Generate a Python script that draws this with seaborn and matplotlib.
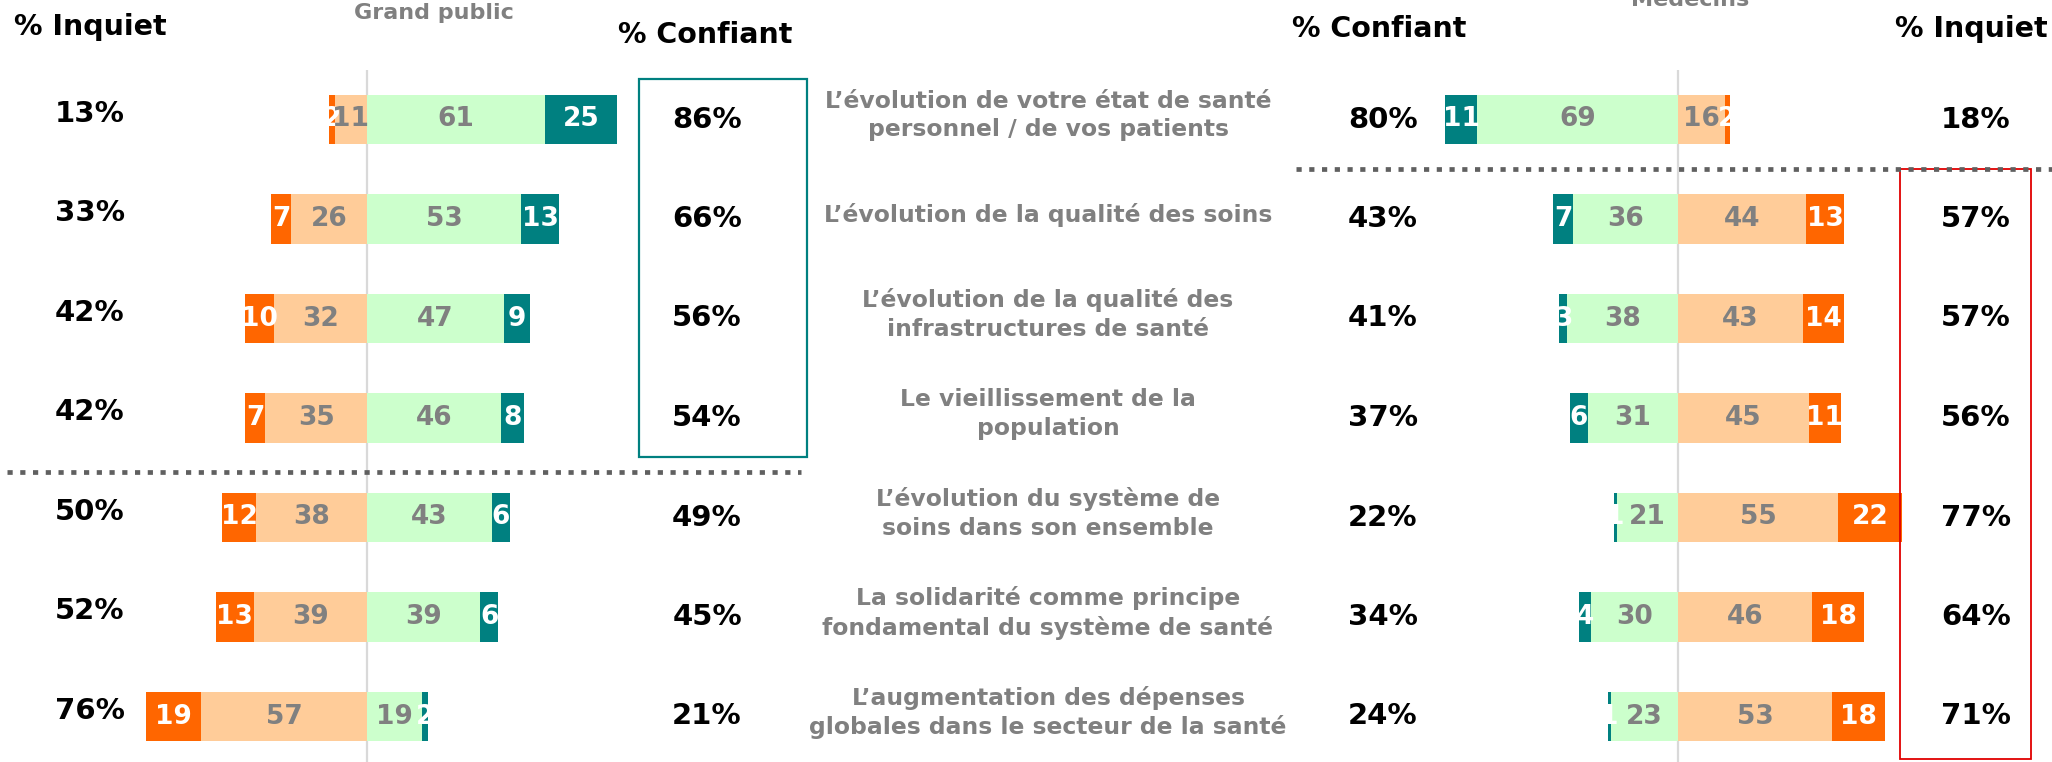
import matplotlib
matplotlib.use("Agg")
import matplotlib.pyplot as plt
import matplotlib.transforms as mtransforms
from matplotlib.patches import Rectangle
from matplotlib.lines import Line2D
import pandas as pd
import seaborn as sns

items = [
    "L’évolution de votre état de santé\npersonnel / de vos patients",
    "L’évolution de la qualité des soins",
    "L’évolution de la qualité des\ninfrastructures de santé",
    "Le vieillissement de la\npopulation",
    "L’évolution du système de\nsoins dans son ensemble",
    "La solidarité comme principe\nfondamental du système de santé",
    "L’augmentation des dépenses\nglobales dans le secteur de la santé",
]

# Grand public
gp_tres_inquiet = [2, 7, 10, 7, 12, 13, 19]
gp_plutot_inquiet = [11, 26, 32, 35, 38, 39, 57]
gp_plutot_confiant = [61, 53, 47, 46, 43, 39, 19]
gp_tres_confiant = [25, 13, 9, 8, 6, 6, 2]
gp_pct_inquiet = [13, 33, 42, 42, 50, 52, 76]
gp_pct_confiant = [86, 66, 56, 54, 49, 45, 21]

# Médecins
med_tres_confiant = [11, 7, 3, 6, 1, 4, 1]
med_plutot_confiant = [69, 36, 38, 31, 21, 30, 23]
med_plutot_inquiet = [16, 44, 43, 45, 55, 46, 53]
med_tres_inquiet = [2, 13, 14, 11, 22, 18, 18]
med_pct_confiant = [80, 43, 41, 37, 22, 34, 24]
med_pct_inquiet = [18, 57, 57, 56, 77, 64, 71]

ORANGE = "#FF6600"
PEACH = "#FFCC99"
MINT = "#CCFFCC"
TEAL = "#008080"
GREY = "#808080"

W, H = 2052, 762
sns.set_style("white")
plt.rcParams["font.family"] = ["DejaVu Sans"]


def fx(px):
    return px / W


def fy(py):
    return 1 - py / H


fig = plt.figure(figsize=(W / 100, H / 100), dpi=100)

row_top, row_step = 119.5, 99.5
ax_top = row_top - row_step / 2
ax_h = row_step * len(items)
px_per_unit = 2.91


def make_ax(zero_px):
    left = zero_px - 100 * px_per_unit
    ax = fig.add_axes([fx(left), fy(ax_top + ax_h), fx(200 * px_per_unit), ax_h / H])
    return ax


def draw_panel(ax, neg_outer, neg_inner, pos_inner, pos_outer, neg_outer_c, pos_outer_c):
    ids = [f"r{i}" for i in range(len(items))]
    df = pd.DataFrame({
        "id": ids,
        "neg_outer": neg_outer, "neg_inner": neg_inner,
        "pos_inner": pos_inner, "pos_outer": pos_outer,
    })
    df["neg_total"] = -(df["neg_outer"] + df["neg_inner"])
    df["neg_in"] = -df["neg_inner"]
    df["pos_total"] = df["pos_inner"] + df["pos_outer"]
    df["pos_in"] = df["pos_inner"]

    ax.axvline(0, color="#d9d9d9", lw=1.6, zorder=0)

    # longest bars first, inner segments drawn on top
    layers = [
        ("neg_total", neg_outer_c, df["neg_outer"], df["neg_total"] + df["neg_outer"] / 2, "white"),
        ("pos_total", pos_outer_c, df["pos_outer"], df["pos_total"] - df["pos_outer"] / 2, "white"),
        ("neg_in", PEACH if neg_outer_c == ORANGE else MINT, df["neg_inner"], df["neg_in"] / 2, GREY),
        ("pos_in", MINT if pos_outer_c == TEAL else PEACH, df["pos_inner"], df["pos_in"] / 2, GREY),
    ]
    containers = []
    for col, color, _, _, _ in layers:
        sns.barplot(data=df, x=col, y="id", order=ids, orient="y", color=color,
                    saturation=1, width=0.5, errorbar=None, linewidth=0, ax=ax)
        containers.append(ax.containers[-1])

    for (col, color, vals, centers, tcolor), cont in zip(layers, containers):
        for i, patch in enumerate(cont):
            t = ax.text(centers[i], i, str(vals[i]), ha="center", va="center",
                        color=tcolor, fontsize=19, fontweight="bold", zorder=5)
            t.set_clip_path(patch)

    ax.set_xlim(-100, 100)
    ax.set_ylim(len(items) - 0.5, -0.5)
    ax.axis("off")


ax_gp = make_ax(367)
draw_panel(ax_gp, gp_tres_inquiet, gp_plutot_inquiet, gp_plutot_confiant, gp_tres_confiant,
           ORANGE, TEAL)

ax_med = make_ax(1678)
draw_panel(ax_med, med_tres_confiant, med_plutot_confiant, med_plutot_inquiet, med_tres_inquiet,
           TEAL, ORANGE)

# column values
tr_gp = mtransforms.blended_transform_factory(fig.transFigure, ax_gp.transData)
tr_med = mtransforms.blended_transform_factory(fig.transFigure, ax_med.transData)
pct_kw = dict(ha="center", va="center", fontsize=21, fontweight="bold", color="black")
for i in range(len(items)):
    fig.text(fx(90), i - 0.06, f"{gp_pct_inquiet[i]}%", transform=tr_gp, **pct_kw)
    fig.text(fx(707), i, f"{gp_pct_confiant[i]}%", transform=tr_gp, **pct_kw)
    fig.text(fx(1383), i, f"{med_pct_confiant[i]}%", transform=tr_med, **pct_kw)
    fig.text(fx(1976), i, f"{med_pct_inquiet[i]}%", transform=tr_med, **pct_kw)
    fig.text(fx(1048), i - 0.04, items[i], transform=tr_med, ha="center", va="center",
             fontsize=16.9, fontweight="bold", color=GREY, linespacing=1.3)

# headers
hdr_kw = dict(ha="center", va="center", fontsize=20.5, fontweight="bold", color="black")
fig.text(fx(90), fy(27), "% Inquiet", **hdr_kw)
fig.text(fx(705), fy(35), "% Confiant", **hdr_kw)
fig.text(fx(1379), fy(29), "% Confiant", **hdr_kw)
fig.text(fx(1971), fy(29), "% Inquiet", **hdr_kw)
fig.text(fx(434), fy(19), "Grand public", ha="center", va="baseline", fontsize=16,
         fontweight="bold", color=GREY)
fig.text(fx(1690), fy(6), "Médecins", ha="center", va="baseline", fontsize=16,
         fontweight="bold", color=GREY)

# separators
dot_kw = dict(transform=fig.transFigure, color="#606060", lw=3.4,
              linestyle=(0, (1.1, 1.6)), solid_capstyle="butt", dash_capstyle="butt")
fig.add_artist(Line2D([fx(7), fx(801)], [fy(472), fy(472)], **dot_kw))
fig.add_artist(Line2D([fx(1296), fx(2052)], [fy(169), fy(169)], **dot_kw))

# highlight boxes
fig.add_artist(Rectangle((fx(639), fy(457)), fx(807) - fx(639), (457 - 79) / H,
                         transform=fig.transFigure, fill=False, ec=TEAL, lw=1.6))
fig.add_artist(Rectangle((fx(1900), fy(759)), fx(2031) - fx(1900), (759 - 169) / H,
                         transform=fig.transFigure, fill=False, ec="#E00000", lw=1.3))

fig.savefig("out.png", dpi=100)
